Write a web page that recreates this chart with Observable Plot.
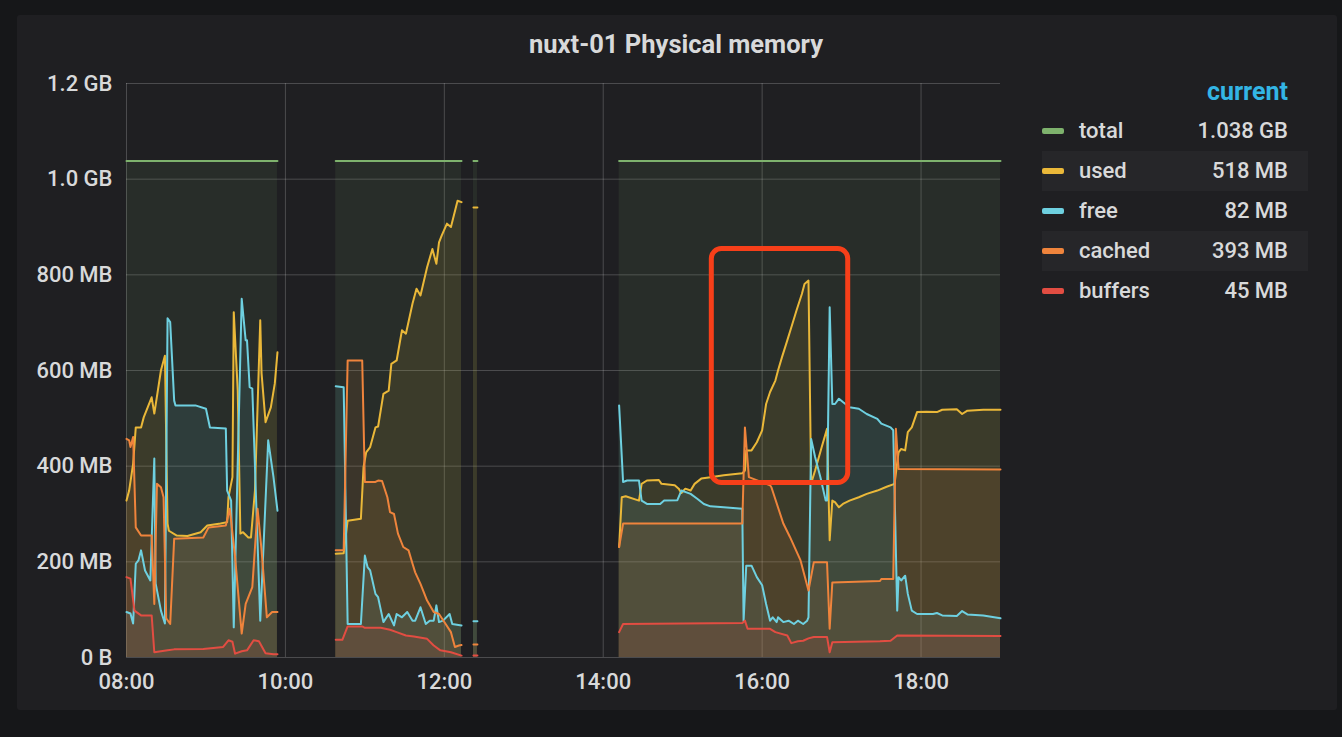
<!DOCTYPE html>
<html>
<head>
<meta charset="utf-8">
<script src="https://cdn.jsdelivr.net/npm/d3@7"></script>
<script src="https://cdn.jsdelivr.net/npm/@observablehq/plot@0.6"></script>
<style>
  html, body { margin: 0; padding: 0; }
  body { width: 1342px; height: 737px; overflow: hidden; background: #161719; position: relative; font-family: Roboto, "Open Sans", sans-serif; }
  #panel { position: absolute; left: 17px; top: 15px; width: 1320px; height: 695px; background: #1f1f22; border-radius: 3px; }
  #title { position: absolute; left: 0; top: 29px; width: 1352px; text-align: center; font-size: 25.5px; line-height: 30px; font-weight: 700; color: #d8d9da; }
  #chart { position: absolute; left: 0; top: 60px; }
  .lg { position: absolute; font-size: 22px; line-height: 28px; font-weight: 500; color: #d8d9da; white-space: nowrap; }
  .hdr { font-weight: 700; font-size: 25px; color: #33b5e5; }
  .sw { position: absolute; width: 22px; height: 6px; border-radius: 2px; }
  .rowbg { position: absolute; background: #262629; }
</style>
</head>
<body>
<div id="panel"></div>
<div id="title">nuxt-01 Physical memory</div>
<div id="chart"></div>
<div id="legend"></div>
<script>
// ---------- data (MB, time of day) ----------
const seriesNames = ["total", "used", "free", "cached", "buffers"];
const seriesColors = ["#7eb26d", "#eab839", "#6ed0e0", "#ef843c", "#e24d42"];
const legendCurrent = ["1.038 GB", "518 MB", "82 MB", "393 MB", "45 MB"];

const yTicks = [0, 200, 400, 600, 800, 1000, 1200];
const yTickLabels = ["0 B", "200 MB", "400 MB", "600 MB", "800 MB", "1.0 GB", "1.2 GB"];
const xTickLabels = ["08:00", "10:00", "12:00", "14:00", "16:00", "18:00"];
const xDomain = ["08:00", "19:00"];

const total = [["08:00",1038],["09:54",1038],["10:15",null],["10:38",1038],["12:13",1038],["12:18",null],
  ["12:22",1038],["12:25",1038],["13:30",null],["14:12",1038],["19:00",1038]];

const used = [["08:00",328],["08:02",349],["08:05",405],["08:07",481],["08:11",481],["08:13",502],["08:16",523],
  ["08:19",544],["08:21",510],["08:26",600],["08:29",631],["08:31",280],["08:32",265],["08:38",255],["08:46",254],
  ["08:56",262],["09:01",276],["09:11",280],["09:16",283],["09:17",335],["09:20",377],["09:21",722],["09:24",558],
  ["09:26",259],["09:28",262],["09:32",251],["09:34",251],["09:37",349],["09:41",705],["09:42",594],["09:45",492],
  ["09:49",523],["09:52",573],["09:54",638],["10:15",null],
  ["10:38",217],["10:44",218],["10:47",286],["10:57",290],["10:59",398],["11:01",429],["11:04",440],["11:08",481],
  ["11:10",483],["11:14",551],["11:18",558],["11:20",614],["11:24",621],["11:28",684],["11:31",677],["11:36",740],
  ["11:39",771],["11:42",757],["11:47",816],["11:51",854],["11:54",823],["11:56",868],["11:58",882],["12:02",907],
  ["12:05",900],["12:10",955],["12:13",952],["12:18",null],["12:22",941],["12:25",941],["13:30",null],
  ["14:12",231],["14:14",335],["14:17",337],["14:27",328],["14:29",363],["14:33",370],["14:42",371],["14:44",363],
  ["14:54",360],["14:57",353],["14:59",344],["15:02",353],["15:06",349],["15:09",363],["15:14",374],["15:21",377],
  ["15:31",381],["15:45",385],["15:47",391],["15:48",433],["15:52",433],["15:56",450],["16:00",475],["16:03",530],
  ["16:06",555],["16:10",579],["16:12",600],["16:15",628],["16:19",663],["16:22",690],["16:26",726],["16:30",760],
  ["16:32",781],["16:35",788],["16:37",364],["16:40",391],["16:45",440],["16:49",478],["16:51",245],["16:53",328],
  ["16:55",325],["16:58",314],["17:01",321],["17:06",328],["17:13",335],["17:19",342],["17:27",349],["17:34",357],
  ["17:40",363],["17:43",429],["17:45",436],["17:48",433],["17:50",471],["17:53",481],["17:57",513],["18:04",514],
  ["18:12",513],["18:16",518],["18:27",519],["18:31",509],["18:35",516],["18:47",518],["19:00",518]];

const free = [["08:00",95],["08:03",92],["08:05",71],["08:07",196],["08:09",203],["08:11",224],["08:14",182],
  ["08:18",161],["08:21",416],["08:22",155],["08:26",98],["08:29",71],["08:31",709],["08:33",701],["08:36",537],
  ["08:37",527],["08:52",527],["09:00",520],["09:03",481],["09:15",479],["09:16",349],["09:19",328],["09:21",63],
  ["09:27",750],["09:30",663],["09:31",663],["09:33",565],["09:35",562],["09:41",77],["09:47",454],["09:51",377],
  ["09:54",307],["10:15",null],
  ["10:38",567],["10:44",565],["10:47",70],["10:57",70],["11:00",213],["11:02",189],["11:04",182],["11:08",133],
  ["11:10",126],["11:14",74],["11:18",91],["11:22",67],["11:24",91],["11:28",84],["11:32",95],["11:36",77],
  ["11:38",77],["11:42",105],["11:46",70],["11:49",77],["11:52",77],["11:54",109],["11:56",74],["11:59",77],
  ["12:04",91],["12:06",70],["12:13",67],["12:18",null],["12:22",76],["12:25",76],["13:30",null],
  ["14:12",527],["14:15",367],["14:18",370],["14:27",370],["14:29",328],["14:33",321],["14:43",321],["14:46",328],
  ["14:56",329],["14:59",349],["15:06",342],["15:11",332],["15:16",321],["15:21",316],["15:31",314],["15:45",311],
  ["15:46",77],["15:48",192],["15:52",192],["15:56",168],["16:00",151],["16:03",112],["16:06",77],["16:08",84],
  ["16:11",74],["16:12",84],["16:16",74],["16:20",77],["16:24",70],["16:27",77],["16:31",70],["16:34",77],
  ["16:35",84],["16:37",457],["16:40",419],["16:44",377],["16:48",328],["16:49",328],["16:51",732],["16:53",530],
  ["16:55",530],["16:58",541],["17:01",534],["17:06",523],["17:13",520],["17:19",509],["17:27",499],["17:30",489],
  ["17:37",481],["17:39",475],["17:42",98],["17:43",168],["17:45",161],["17:48",171],["17:50",133],["17:53",98],
  ["17:57",91],["18:09",91],["18:12",93],["18:16",88],["18:27",87],["18:31",97],["18:35",90],["18:47",88],["19:00",82]];

const cached = [["08:00",457],["08:02",454],["08:03",440],["08:05",461],["08:07",272],["08:11",255],["08:19",255],
  ["08:21",112],["08:23",363],["08:26",356],["08:28",335],["08:30",82],["08:33",70],["08:36",248],["08:58",251],
  ["09:02",272],["09:15",276],["09:18",311],["09:22",210],["09:27",50],["09:30",112],["09:35",147],["09:39",311],
  ["09:42",224],["09:46",84],["09:50",95],["09:54",95],["10:15",null],
  ["10:38",224],["10:44",224],["10:47",621],["10:58",621],["11:00",367],["11:08",367],["11:10",370],["11:13",369],
  ["11:17",335],["11:19",304],["11:22",300],["11:25",259],["11:29",231],["11:33",224],["11:36",196],["11:38",178],
  ["11:42",154],["11:47",119],["11:52",95],["11:56",91],["12:01",70],["12:05",53],["12:08",22],["12:11",25],
  ["12:13",26],["12:18",null],["12:22",27],["12:25",27],["13:30",null],
  ["14:12",231],["14:15",280],["14:28",280],["15:45",280],["15:47",481],["15:50",377],["16:06",360],["16:07",356],
  ["16:16",280],["16:21",252],["16:29",203],["16:35",140],["16:39",199],["16:49",199],["16:51",60],["16:53",157],
  ["17:29",160],["17:30",164],["17:39",164],["17:41",478],["17:43",394],["19:00",393]];

const buffers = [["08:00",168],["08:03",165],["08:06",98],["08:11",88],["08:19",88],["08:21",11],["08:31",15],
  ["08:36",17],["08:58",18],["09:13",22],["09:17",36],["09:20",33],["09:22",8],["09:27",13],["09:31",15],
  ["09:36",36],["09:40",34],["09:45",9],["09:51",7],["09:54",7],["10:15",null],
  ["10:38",37],["10:43",37],["10:47",65],["10:58",65],["11:00",62],["11:12",62],["11:19",58],["11:24",53],
  ["11:31",46],["11:37",44],["11:47",39],["11:52",25],["11:57",15],["12:05",11],["12:13",4],["12:18",null],
  ["12:22",4],["12:25",4],["13:30",null],
  ["14:12",53],["14:15",70],["15:45",72],["15:47",77],["15:49",60],["16:06",60],["16:10",53],["16:19",46],
  ["16:22",30],["16:27",34],["16:31",35],["16:35",40],["16:39",43],["16:49",43],["16:51",11],["16:53",32],
  ["17:29",34],["17:37",35],["17:42",46],["19:00",45]];

// highlighted region drawn over the chart (annotation)
const highlight = [{x1: "15:22", x2: "17:05", y1: 365, y2: 854}];

// ---------- build ----------
const parseT = d3.utcParse("%H:%M");
const allSeries = [total, used, free, cached, buffers];
const tables = allSeries.map(s => s.map(([t, v]) => ({t: parseT(t), v})));
const xTicks = xTickLabels.map(parseT);

const marks = [
  Plot.gridY(yTicks, {stroke: "#ffffff", strokeOpacity: 0.2, strokeWidth: 1}),
  Plot.gridX(xTicks, {stroke: "#ffffff", strokeOpacity: 0.2, strokeWidth: 1}),
];
tables.forEach((tb, i) => {
  marks.push(Plot.areaY(tb, {x: "t", y1: 0, y2: "v", fill: seriesColors[i], fillOpacity: 0.1}));
});
tables.forEach((tb, i) => {
  marks.push(Plot.line(tb, {x: "t", y: "v", stroke: seriesColors[i], strokeWidth: 2}));
});
marks.push(Plot.rect(highlight.map(d => ({x1: parseT(d.x1), x2: parseT(d.x2), y1: d.y1, y2: d.y2})),
  {x1: "x1", x2: "x2", y1: "y1", y2: "y2", fill: "none", stroke: "#f73f19", strokeWidth: 5, rx: 10, ry: 10}));
marks.push(Plot.axisY(yTicks, {tickSize: 0, tickPadding: 14, tickFormat: (d) => yTickLabels[yTicks.indexOf(d)], label: null, fontWeight: 500}));
marks.push(Plot.axisX(xTicks, {tickSize: 0, tickPadding: 16, tickFormat: d3.utcFormat("%H:%M"), label: null, fontWeight: 500}));

const chart = Plot.plot({
  width: 1020,
  height: 640,
  marginLeft: 126,
  marginRight: 20,
  marginTop: 23,
  marginBottom: 43,
  style: {background: "transparent", color: "#d8d9da", fontSize: "22px", fontFamily: "Roboto, sans-serif", overflow: "visible"},
  x: {type: "utc", domain: xDomain.map(parseT)},
  y: {domain: [0, 1200]},
  marks
});
document.getElementById("chart").appendChild(chart);

// ---------- legend ----------
const lg = document.getElementById("legend");
const rowY = [131, 171, 211, 251, 291];
seriesNames.forEach((name, i) => {
  if (i % 2 === 1) {
    const bg = document.createElement("div");
    bg.className = "rowbg";
    Object.assign(bg.style, {left: "1042px", width: "266px", top: (rowY[i] - 20) + "px", height: "40px"});
    lg.appendChild(bg);
  }
  const sw = document.createElement("div");
  sw.className = "sw";
  Object.assign(sw.style, {left: "1042px", top: (rowY[i] - 3) + "px", background: seriesColors[i]});
  lg.appendChild(sw);
  const nm = document.createElement("div");
  nm.className = "lg";
  nm.textContent = name;
  Object.assign(nm.style, {left: "1079px", top: (rowY[i] - 14) + "px"});
  lg.appendChild(nm);
  const val = document.createElement("div");
  val.className = "lg";
  val.textContent = legendCurrent[i];
  Object.assign(val.style, {right: (1342 - 1288) + "px", top: (rowY[i] - 14) + "px"});
  lg.appendChild(val);
});
const hdr = document.createElement("div");
hdr.className = "lg hdr";
hdr.textContent = "current";
Object.assign(hdr.style, {right: (1342 - 1288) + "px", top: (93 - 15) + "px"});
lg.appendChild(hdr);
</script>
</body>
</html>
